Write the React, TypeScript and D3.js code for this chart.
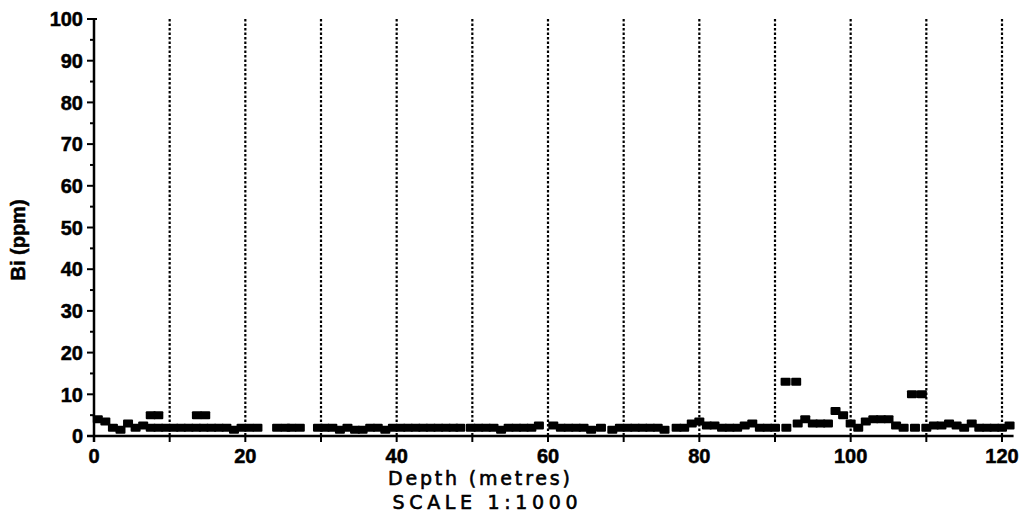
import React from "react";
import * as d3 from "d3";

const depths: number[] = [
  0.5, 1.5, 2.5, 3.5, 4.5, 5.5, 6.5, 7.5, 7.5, 8.5, 8.5, 9.5, 10.5, 11.5, 12.5, 13.5, 13.6, 14.7, 14.5, 15.5,
  16.5, 17.5, 18.5, 19.5, 20.5, 21.6, 24.2, 25.3, 26.1, 27.2, 29.6, 30.5, 31.5, 32.5, 33.5, 34.5, 35.5, 36.5, 37.5, 38.5,
  39.5, 40.5, 41.5, 42.5, 43.5, 44.5, 45.5, 46.5, 47.5, 48.4, 49.8, 50.8, 51.8, 52.8, 53.8, 54.8, 55.8, 56.8, 57.8, 58.8,
  60.7, 61.7, 62.7, 63.7, 64.7, 65.7, 67.0, 68.5, 69.5, 70.5, 71.5, 72.5, 73.5, 74.5, 75.4, 77.0, 78.0, 79.0, 80.0, 81.0,
  82.0, 83.0, 84.0, 85.0, 86.0, 87.0, 88.0, 89.0, 90.0, 91.4, 92.8, 91.5, 93.0, 94.0, 95.0, 96.0, 97.0, 98.0, 99.0, 100.0,
  101.0, 102.0, 103.0, 104.0, 105.0, 106.0, 107.0, 108.1, 109.4, 108.5, 110.0, 111.0, 112.0, 113.0, 114.0, 115.0, 116.0, 117.0, 118.0, 119.0,
  120.0, 121.0,
];
const biPpm: number[] = [
  4, 3.5, 2, 1.5, 3, 2, 2.5, 2, 5, 5, 2, 2, 2, 2, 2, 2, 5, 5, 2, 2,
  2, 2, 1.5, 2, 2, 2, 2, 2, 2, 2, 2, 2, 2, 1.5, 2, 1.5, 1.5, 2, 2, 1.5,
  2, 2, 2, 2, 2, 2, 2, 2, 2, 2, 2, 2, 2, 2, 1.5, 2, 2, 2, 2, 2.5,
  2.5, 2, 2, 2, 2, 1.5, 2, 1.5, 2, 2, 2, 2, 2, 2, 1.5, 2, 2, 3, 3.5, 2.5,
  2.5, 2, 2, 2, 2.5, 3, 2, 2, 2, 13, 13, 2, 3, 4, 3, 3, 3, 6, 5, 3,
  2, 3.5, 4, 4, 4, 2.5, 2, 10, 10, 2, 2, 2.5, 2.5, 3, 2.5, 2, 3, 2, 2, 2,
  2, 2.5,
];
const yTicks: number[] = [0, 10, 20, 30, 40, 50, 60, 70, 80, 90, 100];
const yMinorTicks: number[] = [5, 15, 25, 35, 45, 55, 65, 75, 85, 95];
const xTickLabels: number[] = [0, 20, 40, 60, 80, 100, 120];
const xGrid: number[] = [10, 20, 30, 40, 50, 60, 70, 80, 90, 100, 110, 120];

export default function App() {
  const W = 1029, H = 529;
  const x = d3.scaleLinear().domain([0, 120]).range([94, 1002]);
  const y = d3.scaleLinear().domain([0, 100]).range([436, 19]);
  const font = "'Liberation Sans', Arial, sans-serif";
  const font2 = "'DejaVu Sans', sans-serif";
  const sqW = 10, sqH = 8;
  return (
    <svg width={W} height={H} style={{ position: "absolute", left: 0, top: 0, background: "#fff" }}>
      <rect width={W} height={H} fill="#fff" />
      {xGrid.map((g) => (
        <line key={"g" + g} x1={x(g)} x2={x(g)} y1={y(100)} y2={y(0)} stroke="#000" strokeWidth={2.2} strokeDasharray="2.5,2" />
      ))}
      {depths.map((d, i) => (
        <rect key={"p" + i} x={x(d) - sqW / 2} y={y(biPpm[i]) - sqH / 2} width={sqW} height={sqH} fill="#000" rx={1} />
      ))}
      {/* y axis */}
      <line x1={x(0)} x2={x(0)} y1={y(100) - 1} y2={y(0) + 6} stroke="#000" strokeWidth={2.5} />
      {yTicks.map((t) => (
        <g key={"yt" + t}>
          <line x1={x(0) - 7} x2={x(0) + (t === 100 ? 3 : 0)} y1={y(t)} y2={y(t)} stroke="#000" strokeWidth={2} />
          <text x={83} y={y(t)} dy="0.36em" textAnchor="end" fontFamily={font} fontWeight="bold" fontSize={20} stroke="#000" strokeWidth={0.5}>{t}</text>
        </g>
      ))}
      {yMinorTicks.map((t) => (
        <line key={"ym" + t} x1={x(0) - 4} x2={x(0)} y1={y(t)} y2={y(t)} stroke="#000" strokeWidth={2} />
      ))}
      {/* x axis */}
      <line x1={x(0) - 7} x2={x(121) + 4} y1={y(0)} y2={y(0)} stroke="#000" strokeWidth={2.5} />
      {[0, ...xGrid].map((t) => (
        <line key={"xt" + t} x1={x(t)} x2={x(t)} y1={y(0)} y2={y(0) + 6} stroke="#000" strokeWidth={2} />
      ))}
      {xTickLabels.map((t) => (
        <text key={"xl" + t} x={x(t)} y={463} textAnchor="middle" fontFamily={font} fontWeight="bold" fontSize={20} stroke="#000" strokeWidth={0.5}>{t}</text>
      ))}
      <text x={479} y={485} textAnchor="middle" fontFamily={font2} fontSize={19} stroke="#000" strokeWidth={0.6} textLength={182} lengthAdjust="spacing">Depth (metres)</text>
      <text x={485} y={509} textAnchor="middle" fontFamily={font2} fontSize={19} stroke="#000" strokeWidth={0.6} textLength={185} lengthAdjust="spacing">SCALE 1:1000</text>
      <text transform="translate(25,240) rotate(-90)" textAnchor="middle" fontFamily={font} fontWeight="bold" fontSize={20} stroke="#000" strokeWidth={0.5}>Bi (ppm)</text>
    </svg>
  );
}
